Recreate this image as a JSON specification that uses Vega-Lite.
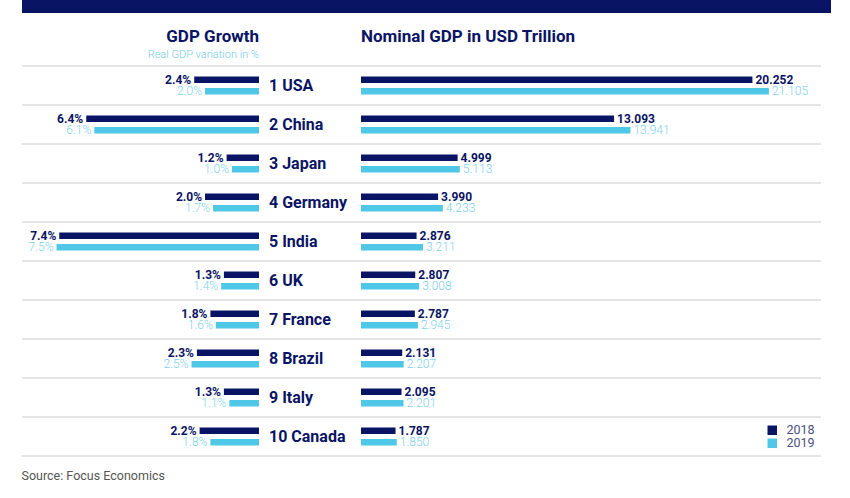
{
  "$schema": "https://vega.github.io/schema/vega-lite/v6.json",
  "padding": {"left": 21, "right": 20, "top": 0, "bottom": 12},
  "background": "white",
  "config": {"view": {"stroke": null}, "font": "Roboto"},
  "title": {"text": "Source: Focus Economics", "orient": "bottom", "anchor": "start", "fontSize": 12.5, "fontWeight": "normal", "color": "#555555", "font": "Roboto", "offset": 13},
  "datasets": {
    "rows": [
      {"label": "1 USA", "year": "2018", "growth": 2.4, "growthText": "2.4%", "gdp": 20.252},
      {"label": "1 USA", "year": "2019", "growth": 2.0, "growthText": "2.0%", "gdp": 21.105},
      {"label": "2 China", "year": "2018", "growth": 6.4, "growthText": "6.4%", "gdp": 13.093},
      {"label": "2 China", "year": "2019", "growth": 6.1, "growthText": "6.1%", "gdp": 13.941},
      {"label": "3 Japan", "year": "2018", "growth": 1.2, "growthText": "1.2%", "gdp": 4.999},
      {"label": "3 Japan", "year": "2019", "growth": 1.0, "growthText": "1.0%", "gdp": 5.113},
      {"label": "4 Germany", "year": "2018", "growth": 2.0, "growthText": "2.0%", "gdp": 3.990},
      {"label": "4 Germany", "year": "2019", "growth": 1.7, "growthText": "1.7%", "gdp": 4.233},
      {"label": "5 India", "year": "2018", "growth": 7.4, "growthText": "7.4%", "gdp": 2.876},
      {"label": "5 India", "year": "2019", "growth": 7.5, "growthText": "7.5%", "gdp": 3.211},
      {"label": "6 UK", "year": "2018", "growth": 1.3, "growthText": "1.3%", "gdp": 2.807},
      {"label": "6 UK", "year": "2019", "growth": 1.4, "growthText": "1.4%", "gdp": 3.008},
      {"label": "7 France", "year": "2018", "growth": 1.8, "growthText": "1.8%", "gdp": 2.787},
      {"label": "7 France", "year": "2019", "growth": 1.6, "growthText": "1.6%", "gdp": 2.945},
      {"label": "8 Brazil", "year": "2018", "growth": 2.3, "growthText": "2.3%", "gdp": 2.131},
      {"label": "8 Brazil", "year": "2019", "growth": 2.5, "growthText": "2.5%", "gdp": 2.207},
      {"label": "9 Italy", "year": "2018", "growth": 1.3, "growthText": "1.3%", "gdp": 2.095},
      {"label": "9 Italy", "year": "2019", "growth": 1.1, "growthText": "1.1%", "gdp": 2.201},
      {"label": "10 Canada", "year": "2018", "growth": 2.2, "growthText": "2.2%", "gdp": 1.787},
      {"label": "10 Canada", "year": "2019", "growth": 1.8, "growthText": "1.8%", "gdp": 1.850}
    ]
  },
  "spacing": 14,
  "vconcat": [
    {
      "width": 809,
      "height": 13,
      "data": {"values": [{"v": 1, "band": "top"}]},
      "mark": {"type": "bar", "color": "#0a1464"},
      "encoding": {
        "x": {"field": "v", "type": "quantitative", "scale": {"domain": [0, 1], "nice": false}, "axis": null},
        "y": {"field": "band", "type": "nominal", "scale": {"paddingInner": 0, "paddingOuter": 0}, "axis": null}
      }
    },
    {
      "spacing": 0,
      "bounds": "flush",
      "resolve": {"scale": {"color": "independent"}},
      "hconcat": [
        {
          "width": 237,
          "height": 390,
          "data": {"name": "rows"},
          "title": {"text": "GDP Growth", "subtitle": "Real GDP variation in %", "anchor": "end", "frame": "group", "fontSize": 17, "fontWeight": "bold", "color": "#0a1464", "subtitleFontSize": 11, "subtitleColor": "#6fcde8", "subtitleFont": "Roboto", "subtitleFontWeight": 300, "offset": 5, "subtitlePadding": 3},
          "layer": [
            {
              "mark": {"type": "rule", "color": "#dcdcdc", "strokeWidth": 1},
              "encoding": {
                "y": {"field": "label", "type": "nominal", "bandPosition": 0, "scale": {"domain": ["1 USA", "2 China", "3 Japan", "4 Germany", "5 India", "6 UK", "7 France", "8 Brazil", "9 Italy", "10 Canada"], "paddingInner": 0, "paddingOuter": 0}, "axis": null}
              }
            },
            {
              "transform": [{"filter": "datum.label == '10 Canada'"}],
              "mark": {"type": "rule", "color": "#dcdcdc", "strokeWidth": 1},
              "encoding": {
                "y": {"field": "label", "type": "nominal", "bandPosition": 1, "axis": null}
              }
            },
            {
              "mark": {"type": "bar"},
              "encoding": {
                "y": {"field": "label", "type": "nominal", "axis": null},
                "yOffset": {"field": "year", "type": "nominal", "scale": {"domain": ["2018", "2019"], "paddingInner": 0.435, "paddingOuter": 0.913}},
                "x": {"field": "growth", "type": "quantitative", "scale": {"domain": [0, 8.78], "reverse": true, "nice": false}, "axis": null},
                "color": {"field": "year", "type": "nominal", "scale": {"domain": ["2018", "2019"], "range": ["#0a1464", "#4ec8e6"]}, "legend": null}
              }
            },
            {
              "transform": [{"filter": "datum.year == '2018'"}],
              "mark": {"type": "text", "align": "right", "baseline": "middle", "dx": -3, "fontSize": 12, "fontWeight": "bold", "color": "#0a1464"},
              "encoding": {
                "y": {"field": "label", "type": "nominal", "axis": null},
                "yOffset": {"field": "year", "type": "nominal"},
                "x": {"field": "growth", "type": "quantitative"},
                "text": {"field": "growthText"}
              }
            },
            {
              "transform": [{"filter": "datum.year == '2019'"}],
              "mark": {"type": "text", "align": "right", "baseline": "middle", "dx": -3, "fontSize": 12, "fontWeight": 300, "color": "#7dd2ec"},
              "encoding": {
                "y": {"field": "label", "type": "nominal", "axis": null},
                "yOffset": {"field": "year", "type": "nominal"},
                "x": {"field": "growth", "type": "quantitative"},
                "text": {"field": "growthText"}
              }
            },
            {
              "transform": [{"filter": "datum.year == '2018'"}],
              "mark": {"type": "text", "align": "left", "baseline": "middle", "dx": 10, "fontSize": 16, "fontWeight": "bold", "color": "#0a1464"},
              "encoding": {
                "y": {"field": "label", "type": "nominal", "axis": null},
                "x": {"datum": 0, "type": "quantitative"},
                "text": {"field": "label"}
              }
            }
          ]
        },
        {
          "width": 102,
          "height": 390,
          "data": {"name": "rows"},
          "title": {"text": " ", "subtitle": " ", "frame": "group", "fontSize": 17, "subtitleFontSize": 11, "offset": 5, "subtitlePadding": 3},
          "layer": [
            {
              "mark": {"type": "rule", "color": "#dcdcdc", "strokeWidth": 1},
              "encoding": {
                "y": {"field": "label", "type": "nominal", "bandPosition": 0, "scale": {"domain": ["1 USA", "2 China", "3 Japan", "4 Germany", "5 India", "6 UK", "7 France", "8 Brazil", "9 Italy", "10 Canada"], "paddingInner": 0, "paddingOuter": 0}, "axis": null}
              }
            },
            {
              "transform": [{"filter": "datum.label == '10 Canada'"}],
              "mark": {"type": "rule", "color": "#dcdcdc", "strokeWidth": 1},
              "encoding": {
                "y": {"field": "label", "type": "nominal", "bandPosition": 1, "axis": null}
              }
            }
          ]
        },
        {
          "width": 460,
          "height": 390,
          "data": {"name": "rows"},
          "title": {"text": "Nominal GDP in USD Trillion", "subtitle": " ", "anchor": "start", "frame": "group", "fontSize": 17, "fontWeight": "bold", "color": "#0a1464", "subtitleFontSize": 11, "offset": 5, "subtitlePadding": 3},
          "layer": [
            {
              "mark": {"type": "rule", "color": "#dcdcdc", "strokeWidth": 1},
              "encoding": {
                "y": {"field": "label", "type": "nominal", "bandPosition": 0, "scale": {"domain": ["1 USA", "2 China", "3 Japan", "4 Germany", "5 India", "6 UK", "7 France", "8 Brazil", "9 Italy", "10 Canada"], "paddingInner": 0, "paddingOuter": 0}, "axis": null}
              }
            },
            {
              "transform": [{"filter": "datum.label == '10 Canada'"}],
              "mark": {"type": "rule", "color": "#dcdcdc", "strokeWidth": 1},
              "encoding": {
                "y": {"field": "label", "type": "nominal", "bandPosition": 1, "axis": null}
              }
            },
            {
              "mark": {"type": "bar"},
              "encoding": {
                "y": {"field": "label", "type": "nominal", "axis": null},
                "yOffset": {"field": "year", "type": "nominal", "scale": {"domain": ["2018", "2019"], "paddingInner": 0.435, "paddingOuter": 0.913}},
                "x": {"field": "gdp", "type": "quantitative", "scale": {"domain": [0, 23.8], "nice": false}, "axis": null},
                "color": {"field": "year", "type": "nominal", "scale": {"domain": ["2018", "2019"], "range": ["#0a1464", "#4ec8e6"]}, "legend": {"orient": "bottom-right", "title": null, "symbolType": "square", "symbolSize": 90, "symbolStrokeWidth": 0, "labelFontSize": 12.5, "labelColor": "#4a5080", "labelFont": "Roboto", "labelOffset": 8, "rowPadding": 0, "offset": 6}}
              }
            },
            {
              "transform": [{"filter": "datum.year == '2018'"}],
              "mark": {"type": "text", "align": "left", "baseline": "middle", "dx": 3, "fontSize": 12, "fontWeight": "bold", "color": "#0a1464"},
              "encoding": {
                "y": {"field": "label", "type": "nominal", "axis": null},
                "yOffset": {"field": "year", "type": "nominal"},
                "x": {"field": "gdp", "type": "quantitative"},
                "text": {"field": "gdp", "format": ".3f"}
              }
            },
            {
              "transform": [{"filter": "datum.year == '2019'"}],
              "mark": {"type": "text", "align": "left", "baseline": "middle", "dx": 3, "fontSize": 12, "fontWeight": 300, "color": "#7dd2ec"},
              "encoding": {
                "y": {"field": "label", "type": "nominal", "axis": null},
                "yOffset": {"field": "year", "type": "nominal"},
                "x": {"field": "gdp", "type": "quantitative"},
                "text": {"field": "gdp", "format": ".3f"}
              }
            }
          ]
        }
      ]
    }
  ]
}
